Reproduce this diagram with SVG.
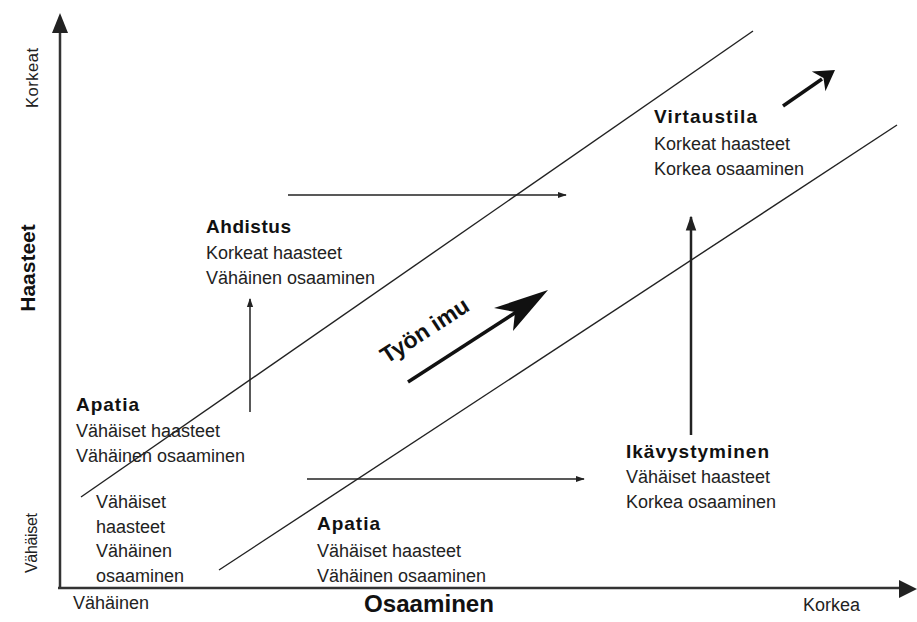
<svg xmlns="http://www.w3.org/2000/svg" width="917" height="622" viewBox="0 0 917 622">
<defs>
<style>
.t{font-family:"Liberation Sans",Arial,sans-serif;font-size:18px;fill:#222}
.b{font-family:"Liberation Sans",Arial,sans-serif;font-size:19px;font-weight:bold;fill:#111}
.ax{stroke:#333;stroke-width:2.5;fill:none}
.d{stroke:#222;stroke-width:1.4;fill:none}
.a{stroke:#222;stroke-width:1.5;fill:none;marker-end:url(#sm)}
</style>
<marker id="sm" viewBox="0 0 10 10" refX="9" refY="5" markerWidth="6" markerHeight="6" markerUnits="strokeWidth" orient="auto">
<path d="M0,1.5 L10,5 L0,8.5 Z" fill="#222"/>
</marker>
</defs>
<rect width="917" height="622" fill="#fff"/>

<g id="connectors">
<line class="ax" x1="60" y1="588" x2="60" y2="30"/>
<polygon points="60,13 52,33 68,33" fill="#222"/>
<line class="ax" x1="58" y1="588" x2="902" y2="588"/>
<polygon points="917,589 899,580 899,598" fill="#222"/>
<line class="d" x1="81" y1="497" x2="753" y2="31"/>
<line class="d" x1="219" y1="570" x2="897" y2="125"/>
<line class="a" x1="288" y1="195" x2="566" y2="195"/>
<line class="a" x1="250" y1="412" x2="250" y2="299"/>
<line class="a" x1="307" y1="479" x2="584" y2="479"/>
<line class="a" x1="691" y1="435" x2="691" y2="217" style="stroke-width:2.5"/>
<line x1="408" y1="382" x2="518" y2="311" stroke="#111" stroke-width="3.5"/>
<polygon points="548,290 494,308 515,312 513,331" fill="#111"/>
<line x1="783" y1="106" x2="822" y2="79" stroke="#111" stroke-width="3.5"/>
<polygon points="835,70 811.8,71.5 823.5,78 825.4,91.3" fill="#111"/>
</g>

<g id="axis-labels">
<text class="t" style="font-size:16.5px" transform="translate(38,78) rotate(-90)" text-anchor="middle" textLength="60">Korkeat</text>
<text class="b" style="font-size:21px" transform="translate(35,268) rotate(-90)" text-anchor="middle">Haasteet</text>
<text class="t" style="font-size:16px" transform="translate(37,543) rotate(-90)" text-anchor="middle" textLength="60">Vähäiset</text>
<text class="t" x="73" y="609">Vähäinen</text>
<text class="b" style="font-size:24px" x="364" y="612" textLength="130" lengthAdjust="spacingAndGlyphs">Osaaminen</text>
<text class="t" x="803" y="611">Korkea</text>
</g>

<g id="virtaustila">
<text class="b" x="654" y="123" textLength="103">Virtaustila</text>
<text class="t" x="654" y="150">Korkeat haasteet</text>
<text class="t" x="654" y="175">Korkea osaaminen</text>
</g>

<g id="ahdistus">
<text class="b" x="206" y="233" textLength="85">Ahdistus</text>
<text class="t" x="206" y="259">Korkeat haasteet</text>
<text class="t" x="206" y="284">Vähäinen osaaminen</text>
</g>

<g id="apatia-upper">
<text class="b" x="76" y="411" textLength="63">Apatia</text>
<text class="t" x="76" y="437">Vähäiset haasteet</text>
<text class="t" x="76" y="462">Vähäinen osaaminen</text>
</g>

<g id="vahaiset-block">
<text class="t" x="96" y="508">Vähäiset</text>
<text class="t" x="96" y="533">haasteet</text>
<text class="t" x="96" y="557">Vähäinen</text>
<text class="t" x="96" y="582">osaaminen</text>
</g>

<g id="apatia-lower">
<text class="b" x="317" y="530" textLength="63">Apatia</text>
<text class="t" x="317" y="557">Vähäiset haasteet</text>
<text class="t" x="317" y="582">Vähäinen osaaminen</text>
</g>

<g id="ikavystyminen">
<text class="b" x="626" y="458" textLength="143">Ikävystyminen</text>
<text class="t" x="626" y="483">Vähäiset haasteet</text>
<text class="t" x="626" y="508">Korkea osaaminen</text>
</g>

<g id="tyon-imu">
<text class="b" style="font-size:23px" transform="translate(429,337) rotate(-33)" text-anchor="middle">Työn imu</text>
</g>
</svg>
